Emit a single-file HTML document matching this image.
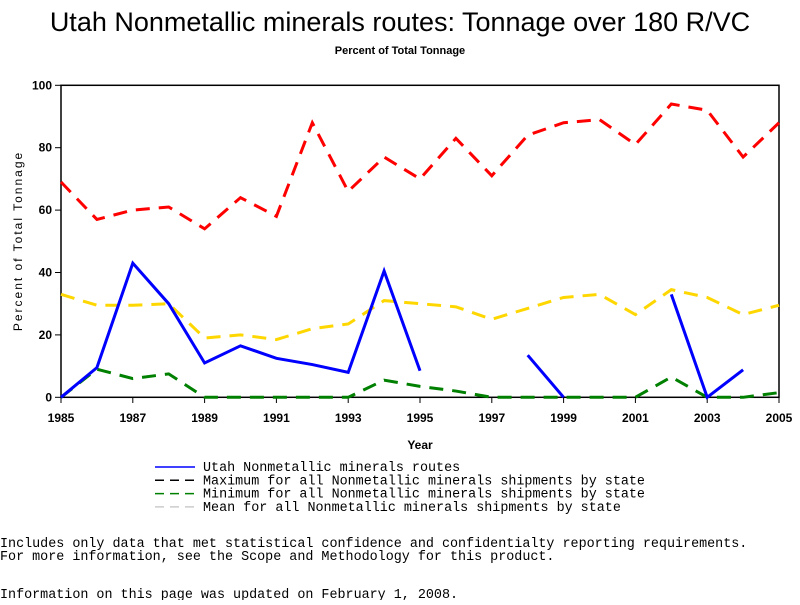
<!DOCTYPE html>
<html><head><meta charset="utf-8"><style>
body{margin:0;background:#fff;width:800px;height:600px;overflow:hidden;font-family:"Liberation Sans",sans-serif}
svg text{font-family:"Liberation Sans",sans-serif}
svg text.mono{font-family:"Liberation Mono",monospace;font-size:13.4px}
</style></head><body>
<svg id="c" width="800" height="600">
<text x="400" y="31" text-anchor="middle" font-size="27">Utah Nonmetallic minerals routes: Tonnage over 180 R/VC</text>
<text x="400" y="54" text-anchor="middle" font-size="11" font-weight="bold">Percent of Total Tonnage</text>
<rect x="61" y="85.3" width="718" height="312" fill="none" stroke="#000" stroke-width="1.5"/>
<g id="axes"></g><g id="series"></g>
<text x="420" y="449" text-anchor="middle" font-size="12" font-weight="bold">Year</text>
<text transform="translate(22,241) rotate(-90)" text-anchor="middle" font-size="12" letter-spacing="2">Percent of Total Tonnage</text>
<g id="legend"></g>
<text x="0" y="547" class="mono">Includes only data that met statistical confidence and confidentialty reporting requirements.</text>
<text x="0" y="560" class="mono">For more information, see the Scope and Methodology for this product.</text>
<text x="0" y="598" class="mono">Information on this page was updated on February 1, 2008.</text>
</svg>
<script>
const years=[1985,1986,1987,1988,1989,1990,1991,1992,1993,1994,1995,1996,1997,1998,1999,2000,2001,2002,2003,2004,2005];
const utah=[0,9.5,43,30,11,16.5,12.5,10.5,8,40.5,8.5,null,null,13.5,0,null,null,33,0,8.8,null];
const maxv=[69,57,60,61,54,64,58,88,66,77,70,83,71,84,88,89,81,94,92,77,88];
const minv=[0,9,6,7.5,0,0,0,0,0,5.5,3.5,2,0,0,0,0,0,6.5,0,0,1.5];
const meanv=[33,29.5,29.5,30,19,20,18.5,22,23.5,31,30,29,25,28.5,32,33,26.5,34.5,32,26.5,29.5];
const yTicks=[0,20,40,60,80,100];
const xTicks=[1985,1987,1989,1991,1993,1995,1997,1999,2001,2003,2005];
const NS='http://www.w3.org/2000/svg';
const X=y=>61+(y-1985)*718/20, Y=v=>397.3-v*3.12;
function mk(t,a,p){const e=document.createElementNS(NS,t);for(const k in a)e.setAttribute(k,a[k]);p.appendChild(e);return e;}
const ax=document.getElementById('axes');
yTicks.forEach(v=>{mk('line',{x1:55,x2:61,y1:Y(v),y2:Y(v),stroke:'#000'},ax);
const t=mk('text',{x:52,y:Y(v)+4,'text-anchor':'end','font-size':12,'font-weight':'bold'},ax);t.textContent=v;

});
xTicks.forEach(v=>{mk('line',{x1:X(v),x2:X(v),y1:397,y2:403,stroke:'#000'},ax);
const t=mk('text',{x:X(v),y:422,'text-anchor':'middle','font-size':12,'font-weight':'bold'},ax);t.textContent=v;

});
const sg=document.getElementById('series');
function draw(vals,col,dash,w,name){let d='',pen=false;
vals.forEach((v,i)=>{if(v==null){pen=false;return;}d+=(pen?'L':'M')+X(years[i])+' '+Y(v)+' ';pen=true;});
const p=mk('path',{d:d,fill:'none',stroke:col,'stroke-width':w,'stroke-dasharray':dash},sg);

}
draw(maxv,'#ff0000','14 9',3,'max-series-line');
draw(meanv,'#ffd700','14 9',3,'mean-series-line');
draw(minv,'#008000','14 9',3,'min-series-line');
draw(utah,'#0000ff','none',3,'utah-series-line');
const lg=document.getElementById('legend');
[['Utah Nonmetallic minerals routes','#0000ff','none'],['Maximum for all Nonmetallic minerals shipments by state','#000','9 6'],['Minimum for all Nonmetallic minerals shipments by state','#008000','9 6'],['Mean for all Nonmetallic minerals shipments by state','#ccc','9 6']].forEach((e,i)=>{
const y=467+i*13.3;
const l=mk('line',{x1:155,x2:195,y1:y,y2:y,stroke:e[1],'stroke-width':1.5,'stroke-dasharray':e[2]},lg);


const t=mk('text',{x:203,y:y+4,'class':'mono'},lg);t.textContent=e[0];

});
</script>
</body></html>
